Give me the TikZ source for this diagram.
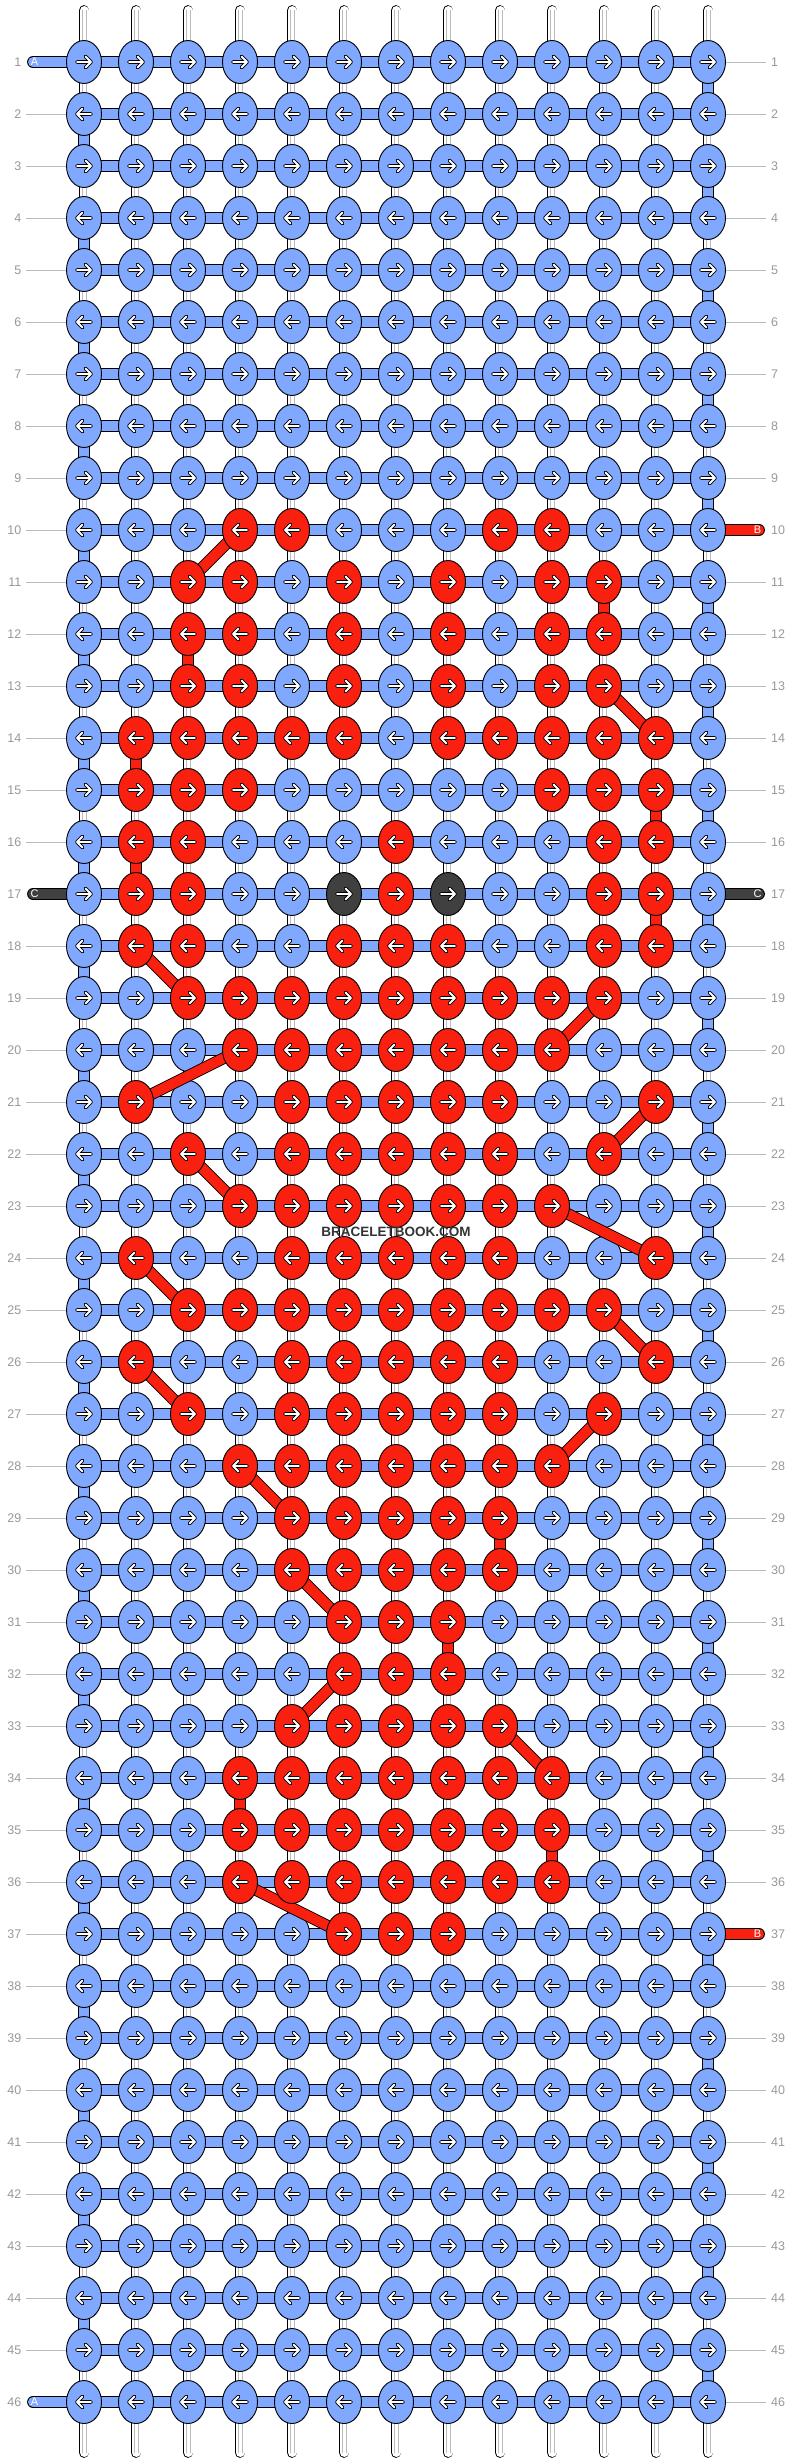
\documentclass[tikz,border=0pt]{standalone}
\usepackage{fontspec}
\setmainfont{Liberation Sans}
\usetikzlibrary{shapes.geometric}
\definecolor{kblue}{HTML}{80A8FF}
\definecolor{kred}{HTML}{FA2010}
\definecolor{kdark}{HTML}{404040}
\definecolor{labgray}{HTML}{999999}
\definecolor{linegray}{HTML}{BBBBBB}
\newcommand\defrow[2]{\expandafter\def\csname R#1\endcsname{#2}}
\defrow{10}{0,0,0,1,1,0,0,0,1,1,0,0,0}
\defrow{11}{0,0,1,1,0,1,0,1,0,1,1,0,0}
\defrow{12}{0,0,1,1,0,1,0,1,0,1,1,0,0}
\defrow{13}{0,0,1,1,0,1,0,1,0,1,1,0,0}
\defrow{14}{0,1,1,1,1,1,0,1,1,1,1,1,0}
\defrow{15}{0,1,1,1,0,0,0,0,0,1,1,1,0}
\defrow{16}{0,1,1,0,0,0,1,0,0,0,1,1,0}
\defrow{17}{0,1,1,0,0,2,1,2,0,0,1,1,0}
\defrow{18}{0,1,1,0,0,1,1,1,0,0,1,1,0}
\defrow{19}{0,0,1,1,1,1,1,1,1,1,1,0,0}
\defrow{20}{0,0,0,1,1,1,1,1,1,1,0,0,0}
\defrow{21}{0,1,0,0,1,1,1,1,1,0,0,1,0}
\defrow{22}{0,0,1,0,1,1,1,1,1,0,1,0,0}
\defrow{23}{0,0,0,1,1,1,1,1,1,1,0,0,0}
\defrow{24}{0,1,0,0,1,1,1,1,1,0,0,1,0}
\defrow{25}{0,0,1,1,1,1,1,1,1,1,1,0,0}
\defrow{26}{0,1,0,0,1,1,1,1,1,0,0,1,0}
\defrow{27}{0,0,1,0,1,1,1,1,1,0,1,0,0}
\defrow{28}{0,0,0,1,1,1,1,1,1,1,0,0,0}
\defrow{29}{0,0,0,0,1,1,1,1,1,0,0,0,0}
\defrow{30}{0,0,0,0,1,1,1,1,1,0,0,0,0}
\defrow{31}{0,0,0,0,0,1,1,1,0,0,0,0,0}
\defrow{32}{0,0,0,0,0,1,1,1,0,0,0,0,0}
\defrow{33}{0,0,0,0,1,1,1,1,1,0,0,0,0}
\defrow{34}{0,0,0,1,1,1,1,1,1,1,0,0,0}
\defrow{35}{0,0,0,1,1,1,1,1,1,1,0,0,0}
\defrow{36}{0,0,0,1,1,1,1,1,1,1,0,0,0}
\defrow{37}{0,0,0,0,0,1,1,1,0,0,0,0,0}
\tikzset{
  knot/.style={ellipse, draw=black, line width=0.9pt, minimum width=35pt, minimum height=43pt, inner sep=0pt},
  arr/.pic={
    \draw[black, line width=3.8pt, line cap=round, line join=round] (-7,0)--(7,0) (1.5,-5.5)--(7,0)--(1.5,5.5);
    \draw[white, line width=1.9pt, line cap=round, line join=round] (-7,0)--(7,0) (1.5,-5.5)--(7,0)--(1.5,5.5);
  },
  hbar/.style={draw=black, line width=0.9pt, double=kblue, double distance=10pt},
  vbar/.style={draw=black, line width=0.9pt, double=kblue, double distance=10pt},
  warp/.style={draw=black, line width=0.9pt, double=white, double distance=9pt, line cap=round},
  warpline/.style={draw=linegray, line width=0.8pt},
  redconn/.style={draw=black, line width=0.9pt, double=kred, double distance=10pt},
  strandbar/.style={draw=black, line width=0.9pt, double distance=10pt, line cap=round},
  lab/.style={font=\fontsize{12.5}{14}\selectfont, text=labgray, inner sep=0pt},
  labline/.style={draw=linegray, line width=0.9pt},
  slab/.style={font=\fontsize{11}{12}\selectfont, text=white, inner sep=0pt}
}
\newcommand\getvals[1]{\ifcsname R#1\endcsname\edef\vals{\csname R#1\endcsname}\else\def\vals{0,0,0,0,0,0,0,0,0,0,0,0,0}\fi}
\begin{document}
\begin{tikzpicture}[x=1pt,y=-1pt]
\useasboundingbox (0,0) rectangle (792,2464);
\fill[white] (0,0) rectangle (792,2464);
% grid positions
\foreach \r in {1,...,46}{
  \foreach \c in {1,...,13}{
    \coordinate (p-\r-\c) at ({84+52*(\c-1)},{62+52*(\r-1)});
  }
  \coordinate (la-\r) at (26,{62+52*(\r-1)});
  \coordinate (ra-\r) at (766,{62+52*(\r-1)});
}
% warp strands
\foreach \c in {1,...,13}{
  \coordinate (wt-\c) at ({84+52*(\c-1)},10.5);
  \coordinate (wb-\c) at ({84+52*(\c-1)},2452.5);
  \draw[warp] (wt-\c) -- (wb-\c);
  \draw[warpline] ([xshift=-2pt]wt-\c) -- ([xshift=-2pt]wb-\c);
  \draw[warpline] ([xshift=2pt]wt-\c) -- ([xshift=2pt]wb-\c);
}
% horizontal strands
\foreach \r in {1,...,46}{
  \draw[hbar] (p-\r-1) -- (p-\r-13);
}
% turns at the edges
\foreach \r in {1,...,45}{
  \pgfmathtruncatemacro{\rn}{\r+1}
  \ifodd\r\def\ec{13}\else\def\ec{1}\fi
  \draw[vbar] (p-\r-\ec) -- (p-\rn-\ec);
}
% label lines
\foreach \r in {2,...,16,18,19,...,45}{
  \draw[labline] (la-\r) -- ([xshift=-17pt]p-\r-1);
}
\foreach \r in {1,...,9,11,12,...,16,18,19,...,36,38,39,...,46}{
  \draw[labline] ([xshift=17pt]p-\r-13) -- (ra-\r);
}
% strand ends
\coordinate (sl1) at (33,62);
\coordinate (sl17) at (33,894);
\coordinate (sl46) at (33,2402);
\coordinate (sr10) at (759,530);
\coordinate (sr17) at (759,894);
\coordinate (sr37) at (759,1934);
\draw[strandbar, double=kblue] (sl1) -- (p-1-1);
\draw[strandbar, double=kdark] (sl17) -- (p-17-1);
\draw[strandbar, double=kblue] (sl46) -- (p-46-1);
\draw[strandbar, double=kred] (sr10) -- (p-10-13);
\draw[strandbar, double=kdark] (sr17) -- (p-17-13);
\draw[strandbar, double=kred] (sr37) -- (p-37-13);
\node[slab] (tA1) at (34.5,62) {A};
\node[slab] (tC1) at (34.5,894) {C};
\node[slab] (tA2) at (34.5,2402) {A};
\node[slab] (tB1) at (757.5,530) {B};
\node[slab] (tC2) at (757.5,894) {C};
\node[slab] (tB2) at (757.5,1934) {B};
% blue knots
\foreach \r in {1,...,46}{
  \getvals{\r}
  \ifodd\r\def\dir{1}\else\def\dir{-1}\fi
  \foreach \v [count=\c] in \vals{
    \ifnum\v=0
      \node[knot, fill=kblue] (n-\r-\c) at (p-\r-\c) {};
      \pic[xscale=\dir] at (p-\r-\c) {arr};
    \fi
  }
  \node[lab, anchor=east] (ll-\r) at (21.5,{62+52*(\r-1)}) {\r};
  \node[lab, anchor=west] (rl-\r) at (771,{62+52*(\r-1)}) {\r};
}
% red strand connections
\foreach \ra/\ca/\rb/\cb in {10/4/11/3, 13/11/14/12, 18/2/19/3, 19/11/20/10, 20/4/21/2, 21/12/22/11, 22/3/23/4, 23/10/24/12, 24/2/25/3, 25/11/26/12, 26/2/27/3, 27/11/28/10, 28/4/29/5, 30/5/31/6, 32/6/33/5, 33/9/34/10, 36/4/37/6, 11/11/12/11, 12/3/13/3, 14/2/15/2, 15/12/16/12, 16/2/17/2, 17/12/18/12, 29/9/30/9, 31/8/32/8, 34/4/35/4, 35/10/36/10}{
  \draw[redconn] (p-\ra-\ca) -- (p-\rb-\cb);
}
% red and dark knots
\foreach \r in {10,...,37}{
  \getvals{\r}
  \ifodd\r\def\dir{1}\else\def\dir{-1}\fi
  \foreach \v [count=\c] in \vals{
    \ifnum\v>0
      \ifnum\v=1\def\kc{kred}\else\def\kc{kdark}\fi
      \node[knot, fill=\kc] (n-\r-\c) at (p-\r-\c) {};
      \pic[xscale=\dir] at (p-\r-\c) {arr};
    \fi
  }
}
\node[font=\bfseries\fontsize{13.5}{15}\selectfont, text=black!80, inner sep=0pt] (wm) at (396,1232) {BRACELETBOOK.COM};
\end{tikzpicture}
\end{document}
